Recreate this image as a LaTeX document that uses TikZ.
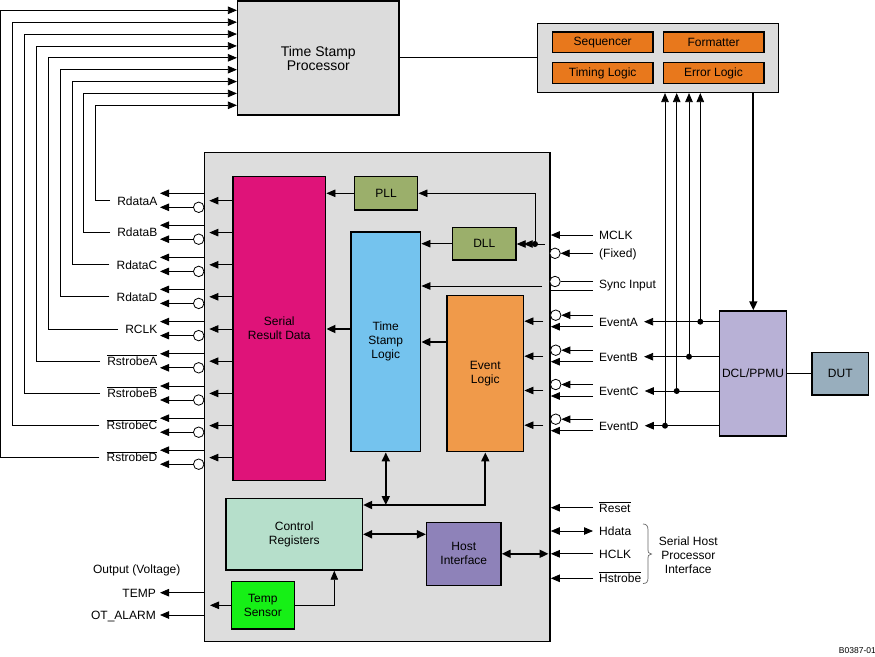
\documentclass[tikz,border=0pt]{standalone}
\usepackage{fontspec}
\setmainfont{Liberation Sans}
\usetikzlibrary{arrows.meta,calc}
\definecolor{chipgray}{HTML}{DDDDDD}
\definecolor{tspgray}{HTML}{DCDCDC}
\definecolor{srdpink}{HTML}{DF1379}
\definecolor{pllgreen}{HTML}{9BAF6B}
\definecolor{tslblue}{HTML}{74C3EE}
\definecolor{elorange}{HTML}{F09A4A}
\definecolor{dclpurple}{HTML}{B8B1D6}
\definecolor{dutblue}{HTML}{98AEBD}
\definecolor{crgreen}{HTML}{B6DFCB}
\definecolor{hipurple}{HTML}{8E82B9}
\definecolor{tsgreen}{HTML}{16F016}
\definecolor{pgorange}{HTML}{E8781C}
\newcommand{\ovl}[1]{$\overline{\mbox{#1}}$}
\begin{document}
\begin{tikzpicture}[x=1pt,y=-1pt]
\tikzset{
 box/.style={draw, line width=1.5pt, inner sep=0pt, align=center, font=\fontsize{12}{14}\selectfont},
 sig/.style={line width=0.8pt, -{Triangle[length=9pt,width=7.5pt]}},
 dsig/.style={line width=0.8pt, {Triangle[length=9pt,width=7.5pt]}-{Triangle[length=9pt,width=7.5pt]}},
 bus/.style={line width=1.8pt, -{Triangle[length=9pt,width=8pt]}},
 dbus/.style={line width=1.8pt, {Triangle[length=9pt,width=8pt]}-{Triangle[length=9pt,width=8pt]}},
 wire/.style={line width=0.8pt},
 inv/.style={circle, draw, line width=0.8pt, fill=white, minimum size=10.5pt, inner sep=0pt},
 dot/.style={circle, fill=black, minimum size=6pt, inner sep=0pt},
 lbl/.style={font=\fontsize{12}{14}\selectfont, inner ysep=0pt, inner xsep=7pt, text height=8.6pt, text depth=0pt},
 rlbl/.style={lbl, inner xsep=6pt, anchor=west},
 txt/.style={font=\fontsize{12}{14}\selectfont, inner sep=0pt, align=center},
 braceline/.style={line width=0.7pt, black!60},
}
\fill[white] (0,0) rectangle (875,656);
\useasboundingbox (0,0) rectangle (875,656);

% ---------- boxes ----------
\node[box, fill=tspgray, minimum width=161.3pt, minimum height=114pt, font=\fontsize{14}{14}\selectfont] (TSP) at (318.3,58) {Time Stamp\\Processor};
\node[box, fill=tspgray, minimum width=241.4pt, minimum height=69pt] (PG) at (658,57.8) {};
\node[box, fill=pgorange, minimum width=100.5pt, minimum height=20.7pt] (SEQ) at (602.7,42.3) {Sequencer};
\node[box, fill=pgorange, minimum width=100.5pt, minimum height=20.7pt] (FMT) at (713.5,42.3) {Formatter};
\node[box, fill=pgorange, minimum width=100.5pt, minimum height=21pt] (TIM) at (602.7,73.2) {Timing Logic};
\node[box, fill=pgorange, minimum width=100.5pt, minimum height=21pt] (ERR) at (713.5,73.2) {Error Logic};

\node[box, fill=chipgray, minimum width=345.7pt, minimum height=489pt] (chip) at (377.2,397.2) {};
\node[box, fill=srdpink, minimum width=92.7pt, minimum height=304pt] (SRD) at (279.3,328.7) {Serial\\Result Data};
\node[box, fill=pllgreen, minimum width=63.4pt, minimum height=33.3pt] (PLL) at (386,193.3) {PLL};
\node[box, fill=pllgreen, minimum width=63.3pt, minimum height=32.7pt] (DLL) at (484.3,243.7) {DLL};
\node[box, fill=tslblue, minimum width=69.7pt, minimum height=219.7pt] (TSL) at (385.8,341.8) {Time\\Stamp\\Logic};
\node[box, fill=elorange, minimum width=76.7pt, minimum height=156pt] (EL) at (485.3,373.7) {Event\\Logic};
\node[box, fill=crgreen, minimum width=136.3pt, minimum height=71.3pt] (CR) at (294.2,534.3) {Control\\Registers};
\node[box, fill=hipurple, minimum width=74.3pt, minimum height=63pt] (HI) at (463.8,553.8) {Host\\Interface};
\node[box, fill=tsgreen, minimum width=63pt, minimum height=47.3pt] (TS) at (262.8,605.3) {Temp\\Sensor};
\node[box, fill=dclpurple, minimum width=67.4pt, minimum height=125pt] (DCL) at (753,373.5) {DCL/PPMU};
\node[box, fill=dutblue, minimum width=56.7pt, minimum height=42.7pt] (DUT) at (840.3,373.7) {DUT};

% ---------- left outputs ----------
\foreach \i/\nm/\yy in {0/RdataA/200.7, 1/RdataB/232.6, 2/RdataC/264.8, 3/RdataD/296.8, 4/RCLK/329, 5/{\ovl{RstrobeA}}/361.2, 6/{\ovl{RstrobeB}}/393.4, 7/{\ovl{RstrobeC}}/425.6, 8/{\ovl{RstrobeD}}/457.6}{
  \pgfmathsetmacro\wx{95.7-11.85*\i}
  \pgfmathsetmacro\ty{105.3-11.875*\i}
  \node[lbl, anchor=east] (L\i) at (164.5,\yy) {\nm};
  \coordinate (Lt\i) at (\wx,\ty);
  \coordinate (Lu\i) at (160,\yy-7.4);
  \coordinate (Ll\i) at (160,\yy+6.6);
  \coordinate (Ls\i) at (209.3,\yy);
  \draw[sig] (L\i.west) -| (Lt\i) -- (TSP.west |- Lt\i);
  \draw[sig] (chip.west |- Lu\i) -- (Lu\i);
  \node[inv] (C\i) at (198.7,\yy+6.6) {};
  \draw[sig] (C\i.west) -- (Ll\i);
  \draw[sig] (SRD.west |- Ls\i) -- (Ls\i);
}

% ---------- top connections ----------
\draw[wire] (TSP.east |- PG.west) -- (PG.west);
\coordinate (pgd) at (753.3,0);
\draw[bus] (PG.south -| pgd) -- (DCL.north -| pgd);
\draw[wire] (DCL.east |- DUT.west) -- (DUT.west);

% ---------- clock inputs ----------
\node[rlbl] (MCLK) at (593,235) {MCLK};
\draw[sig] (MCLK.west) -- (chip.east |- MCLK.west);
\node[rlbl] (FIX) at (593,253.3) {(Fixed)};
\node[inv] (FC) at (555,253.3) {};
\draw[sig] (FIX.west) -- (FC.east);
\node[rlbl] (SYNC) at (593,284) {Sync Input};
\coordinate (syncU) at (593,281.5);
\coordinate (syncL) at (593,290);
\node[inv] (SC) at (555,281.5) {};
\draw[wire] (syncU) -- (SC.east);
\draw[wire] (chip.east |- syncL) -- (syncL);

\node[dot] (MD) at (535,244) {};
\coordinate (mIn) at (545,244);
\draw[wire] (mIn) -- (MD.center);
\draw[sig] (MD.center) -- (DLL.east |- MD.center);
\draw[sig] (MD.center) -- ($(DLL.east |- MD.center)+(7,0)$);
\draw[sig] (MD.center) |- (PLL.east);
\draw[sig] (PLL.west) -- (SRD.east |- PLL.west);
\draw[sig] (DLL.west) -- (TSL.east |- DLL.west);
\coordinate (syncIn) at (542,286);
\draw[sig] (syncIn) -- (TSL.east |- syncIn);

% ---------- internal buses ----------
\coordinate (tslY) at (0,329);
\draw[bus] (TSL.west |- tslY) -- (SRD.east |- tslY);
\coordinate (elY) at (0,342);
\draw[bus] (EL.west |- elY) -- (TSL.east |- elY);
\coordinate (busY) at (0,505);
\draw[dbus] (CR.east |- busY) -- (EL.south |- busY) -- (EL.south);
\draw[dbus] (TSL.south |- busY) -- (TSL.south);
\coordinate (hiY) at (0,534.3);
\draw[dbus] (CR.east |- hiY) -- (HI.west |- hiY);
\coordinate (hiR) at (548.5,553.8);
\draw[dbus] (HI.east) -- (hiR);

% ---------- events ----------
\foreach \j/\nm/\yy/\dx in {0/EventA/321.7/700.3, 1/EventB/356.7/689, 2/EventC/391/676.7, 3/EventD/425.7/665}{
  \node[rlbl] (E\j) at (593,\yy) {\nm};
  \coordinate (Eu\j) at (593,\yy-6.5);
  \coordinate (El\j) at (593,\yy+5);
  \coordinate (Ei\j) at (543.3,\yy-0.5);
  \node[inv] (EC\j) at (555.7,\yy-6.5) {};
  \draw[sig] (Eu\j) -- (EC\j.east);
  \draw[sig] (El\j) -- (chip.east |- El\j);
  \draw[sig] (Ei\j) -- (EL.east |- Ei\j);
  \draw[sig] (DCL.west |- E\j.east) -- (E\j.east);
  \node[dot] (D\j) at (\dx,\yy) {};
  \draw[sig] (D\j.center) -- (PG.south -| D\j.center);
}

% ---------- host interface signals ----------
\node[rlbl] (RST) at (593,507.7) {\ovl{Reset}};
\draw[sig] (RST.west) -- (chip.east |- RST.west);
\node[rlbl] (HD) at (593,531) {Hdata};
\draw[dsig] (HD.west) -- (chip.east |- HD.west);
\node[rlbl] (HCLK) at (593,553.8) {HCLK};
\draw[sig] (HCLK.west) -- (chip.east |- HCLK.west);
\node[rlbl] (HST) at (593,578.3) {\ovl{Hstrobe}};
\draw[sig] (HST.west) -- (chip.east |- HST.west);
\draw[braceline] (643,524) .. controls (646.5,524) and (648,526) .. (648,530)
   -- (648,550) .. controls (648,552.5) .. (651.5,554)
   .. controls (648,555.5) .. (648,558) -- (648,578)
   .. controls (648,582) and (646.5,583.5) .. (643,583.5);
\node[txt] (SHPI) at (688.3,555) {Serial Host\\Processor\\Interface};

% ---------- temperature ----------
\coordinate (tsx) at (334.3,0);
\draw[sig] (TS.east) -| (CR.south -| tsx);
\coordinate (tsl) at (210,605.3);
\draw[sig] (TS.west) -- (tsl);
\node[lbl, anchor=east, inner xsep=4pt] (TEMP) at (160,592.7) {TEMP};
\draw[sig] (chip.west |- TEMP.east) -- (TEMP.east);
\node[lbl, anchor=east, inner xsep=4pt] (OTA) at (160,615) {OT\_ALARM};
\draw[sig] (chip.west |- OTA.east) -- (OTA.east);
\node[txt] (OUTV) at (136.7,570.7) {Output (Voltage)};

\node[font=\fontsize{8.5}{9}\selectfont, inner sep=0pt, anchor=east] (FIG) at (876,650.5) {B0387-01};
\end{tikzpicture}
\end{document}
